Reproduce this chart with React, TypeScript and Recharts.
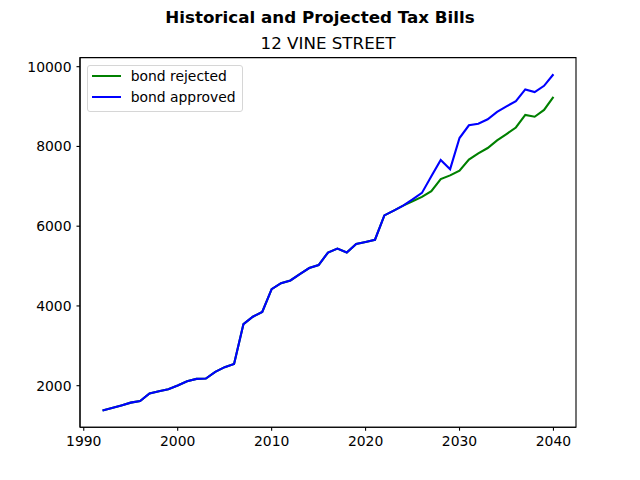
import React from 'react';
import { LineChart, Line, XAxis, YAxis, Legend, ReferenceArea } from 'recharts';

const years = [
  1992, 1993, 1994, 1995, 1996, 1997, 1998, 1999, 2000, 2001,
  2002, 2003, 2004, 2005, 2006, 2007, 2008, 2009, 2010, 2011,
  2012, 2013, 2014, 2015, 2016, 2017, 2018, 2019, 2020, 2021,
  2022, 2023, 2024, 2025, 2026, 2027, 2028, 2029, 2030, 2031,
  2032, 2033, 2034, 2035, 2036, 2037, 2038, 2039, 2040,
];

const bondRejected = [
  1380, 1440, 1505, 1575, 1615, 1805, 1860, 1910, 2005, 2110,
  2170, 2180, 2345, 2465, 2545, 3545, 3730, 3850, 4420, 4570,
  4640, 4800, 4950, 5025, 5340, 5440, 5340, 5555, 5605, 5660,
  6270, 6390, 6515, 6625, 6735, 6880, 7180, 7275, 7395, 7670,
  7825, 7960, 8150, 8310, 8475, 8790, 8745, 8915, 9245,
];

const bondApproved = [
  1380, 1440, 1505, 1575, 1615, 1805, 1860, 1910, 2005, 2110,
  2170, 2180, 2345, 2465, 2545, 3545, 3730, 3850, 4420, 4570,
  4640, 4800, 4950, 5025, 5340, 5440, 5340, 5555, 5605, 5660,
  6270, 6390, 6515, 6670, 6835, 7250, 7660, 7430, 8210, 8530,
  8570, 8680, 8865, 9005, 9135, 9430, 9365, 9520, 9810,
];

const xTicks = [1990, 2000, 2010, 2020, 2030, 2040];
const yTicks = [2000, 4000, 6000, 8000, 10000];
const xDomain = [1989.6, 2042.4];
const yDomain = [959, 10228];

const data = years.map((year, i) => ({
  year,
  rejected: bondRejected[i],
  approved: bondApproved[i],
}));

const seriesInfo = [
  { key: 'rejected', name: 'bond rejected', color: '#008000' },
  { key: 'approved', name: 'bond approved', color: '#0000ff' },
];

// matplotlib-ish legend box
const LegendBox = () => (
  <div
    style={{
      position: 'relative',
      width: 154,
      height: 45,
      background: '#fff',
      border: '1px solid #d6d6d6',
      borderRadius: 3,
      fontSize: 13.9,
      color: '#000',
    }}
  >
    {seriesInfo.map((s, i) => (
      <div key={s.key} style={{ position: 'absolute', left: 4, top: 10 + i * 20.7 - 9, height: 18, display: 'flex', alignItems: 'center' }}>
        <div style={{ width: 28.7, height: 2.1, background: s.color, marginRight: 10 }} />
        <span style={{ whiteSpace: 'nowrap' }}>{s.name}</span>
      </div>
    ))}
  </div>
);

const axisLine = { stroke: '#000', strokeWidth: 1.1 };
const tickStyle = { fill: '#000', fontSize: 13.9 };

export default function App() {
  return (
    <div style={{ position: 'fixed', left: 0, top: 0, width: 640, height: 480, background: '#fff', fontFamily: '"DejaVu Sans", sans-serif' }}>
      <LineChart width={640} height={480} data={data} margin={{ top: 57.6, right: 64, left: 0, bottom: 22.8 }}>
        <XAxis
          dataKey="year"
          type="number"
          domain={xDomain}
          allowDataOverflow
          ticks={xTicks}
          height={30}
          tick={tickStyle}
          tickSize={3.5}
          tickMargin={5}
          tickLine={axisLine}
          axisLine={axisLine}
        />
        <YAxis
          type="number"
          domain={yDomain}
          allowDataOverflow
          ticks={yTicks}
          width={80}
          tick={tickStyle}
          tickSize={3.5}
          tickMargin={5}
          tickLine={axisLine}
          axisLine={axisLine}
        />
        {/* frame around the plot, like matplotlib spines */}
        <ReferenceArea
          x1={xDomain[0]}
          x2={xDomain[1]}
          y1={yDomain[0]}
          y2={yDomain[1]}
          fill="none"
          fillOpacity={0}
          stroke="#000"
          strokeWidth={1.1}
          strokeOpacity={1}
        />
        {seriesInfo.map((s) => (
          <Line
            key={s.key}
            type="linear"
            dataKey={s.key}
            name={s.name}
            stroke={s.color}
            strokeWidth={2.1}
            dot={false}
            activeDot={false}
            isAnimationActive={false}
          />
        ))}
        <Legend
          layout="vertical"
          align="center"
          verticalAlign="middle"
          content={<LegendBox />}
          wrapperStyle={{ left: 87, top: 65, width: 'auto', height: 'auto' }}
        />
      </LineChart>
      <svg width={640} height={60} style={{ position: 'absolute', left: 0, top: 0, pointerEvents: 'none' }}>
        <text x={320} y={22.5} textAnchor="middle" fontSize={16.7} fontWeight="bold" fill="#000">
          Historical and Projected Tax Bills
        </text>
        <text x={328} y={49.3} textAnchor="middle" fontSize={16.7} fill="#000">
          12 VINE STREET
        </text>
      </svg>
    </div>
  );
}
